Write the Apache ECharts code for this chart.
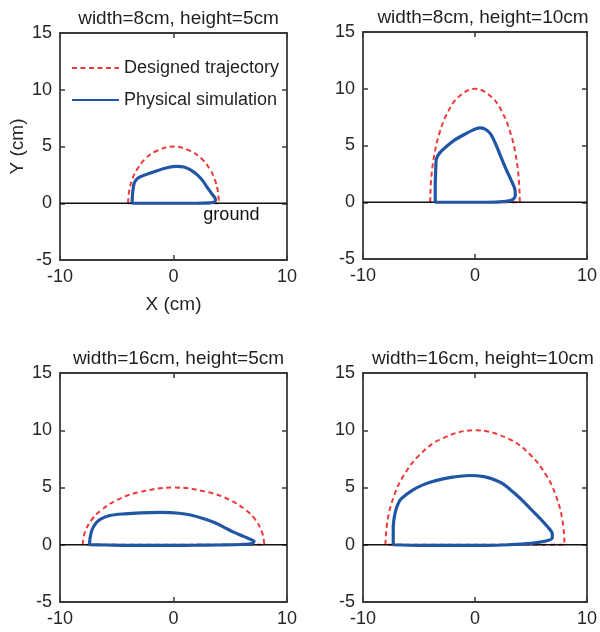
<!DOCTYPE html>
<html>
<head>
    <meta charset="utf-8">
    <title>Trajectories</title>
    <script src="https://cdn.jsdelivr.net/npm/echarts@6/dist/echarts.min.js"></script>
    <style>
        *{margin:0;padding:0;}
        html,body{width:100%;height:100%;overflow:hidden;background:#fff;}
        #main{width:600px;height:632px;}
    </style>
</head>
<body>
<div id="main"></div>
</body>
</html>
<script>
    // panel titles
    let titles = ['width=8cm, height=5cm', 'width=8cm, height=10cm', 'width=16cm, height=5cm', 'width=16cm, height=10cm'];
    let xTicks = [-10, 0, 10];
    let yTicks = [-5, 0, 5, 10, 15];
    let ground = [[-10, 0], [10, 0]];

    // red dashed: designed trajectory
    let designed1 = [[-4,0],[-3.9,1.1],[-3.6,2.2],[-3.2,3.0],[-2.5,3.9],[-1.5,4.6],[0,5.0],[1.5,4.6],[2.5,3.9],[3.2,3.0],[3.6,2.2],[3.9,1.1],[4,0],[0,0],[-4,0]];
    let designed2 = [[-4,0],[-3.9,2.2],[-3.6,4.35],[-3.2,6.0],[-2.5,7.8],[-1.5,9.25],[0,10],[1.5,9.25],[2.5,7.8],[3.2,6.0],[3.6,4.35],[3.9,2.2],[4,0],[0,0],[-4,0]];
    let designed3 = [[-8,0],[-7.8,1.1],[-7.2,2.2],[-6.4,3.0],[-5,3.9],[-3,4.6],[0,5.0],[3,4.6],[5,3.9],[6.4,3.0],[7.2,2.2],[7.8,1.1],[8,0],[0,0],[-8,0]];
    let designed4 = [[-8,0],[-7.8,2.2],[-7.2,4.35],[-6.4,6.0],[-5,7.8],[-3,9.25],[0,10],[3,9.25],[5,7.8],[6.4,6.0],[7.2,4.35],[7.8,2.2],[8,0],[0,0],[-8,0]];

    // blue solid: physical simulation
    let physical1 = [[-3.65,0],[-3.6,0.9],[-3.45,1.8],[-3.15,2.2],[-2.5,2.5],[-1.5,2.85],[-0.5,3.15],[0.3,3.25],[0.9,3.2],[1.5,2.95],[2.1,2.5],[2.6,1.95],[3.0,1.35],[3.4,0.8],[3.7,0.35],[3.6,0.1],[3.1,0.03],[2,0],[0,0],[-2,0],[-3.65,0]];
    let physical2 = [[-3.55,0],[-3.55,1.5],[-3.5,3.0],[-3.45,3.8],[-3.15,4.35],[-2.5,4.95],[-1.8,5.5],[-1.0,5.95],[-0.1,6.4],[0.4,6.55],[0.9,6.45],[1.4,6.0],[1.9,5.0],[2.35,3.9],[2.8,2.85],[3.2,2.0],[3.55,1.2],[3.6,0.6],[3.3,0.2],[2.5,0.05],[1,0],[-1,0],[-3.55,0]];
    let physical3 = [[-7.4,0],[-7.35,0.6],[-7.2,1.25],[-6.9,1.8],[-6.5,2.2],[-5.6,2.55],[-4.3,2.7],[-2.9,2.78],[-1.0,2.82],[0.5,2.75],[1.5,2.6],[2.6,2.3],[3.6,1.95],[4.5,1.5],[5.3,1.1],[6.0,0.8],[6.6,0.55],[7.1,0.3],[6.9,0.1],[6,0.02],[4,-0.02],[2,-0.04],[0,-0.05],[-2,-0.05],[-4,-0.05],[-6,-0.02],[-7.4,0]];
    let physical4 = [[-7.3,0],[-7.3,1.5],[-7.15,2.7],[-6.9,3.5],[-6.6,4.0],[-5.6,4.75],[-4.6,5.25],[-3.5,5.6],[-2.0,5.9],[-0.5,6.05],[0.8,5.95],[1.8,5.65],[2.6,5.25],[3.4,4.6],[4.2,3.9],[5.0,3.1],[5.8,2.3],[6.5,1.55],[6.9,0.95],[6.9,0.6],[6.2,0.3],[5,0.12],[3,0],[1,-0.05],[-2,-0.05],[-5,-0.05],[-7.3,0]];

    let designed = [designed1, designed2, designed3, designed4];
    let physical = [physical1, physical2, physical3, physical4];

    let FONT = 'Liberation Sans, Arial, Helvetica, sans-serif';
    let AXIS_COLOR = '#3a3a3a';
    let TEXT_COLOR = '#262626';

    let grids = [
        {left: 60, top: 33, width: 227, height: 227},
        {left: 363, top: 32, width: 230, height: 227},
        {left: 60, top: 373, width: 227, height: 229},
        {left: 363, top: 373, width: 230, height: 229}
    ];

    let myCharts = echarts.init(document.getElementById('main'));
    let xAxis = [], yAxis = [], series = [], title = [];

    grids.forEach((g, i) => {
        let base = {
            type: 'value',
            gridIndex: i,
            axisLine: {show: true, onZero: false, lineStyle: {color: AXIS_COLOR, width: 1.8}},
            axisTick: {show: true, inside: true, length: 5, lineStyle: {color: AXIS_COLOR, width: 1.5}},
            splitLine: {show: false}
        };
        // bottom + top
        xAxis.push(Object.assign({}, base, {
            position: 'bottom', min: xTicks[0], max: xTicks[xTicks.length - 1], interval: 10,
            axisLabel: {show: true, color: TEXT_COLOR, fontSize: 18, fontFamily: FONT, margin: 8},
            name: i === 0 ? 'X (cm)' : '', nameLocation: 'middle', nameGap: 35,
            nameTextStyle: {color: TEXT_COLOR, fontSize: 19, fontFamily: FONT}
        }));
        xAxis.push(Object.assign({}, base, {
            position: 'top', min: xTicks[0], max: xTicks[xTicks.length - 1], interval: 10,
            axisLabel: {show: false}
        }));
        // left + right
        yAxis.push(Object.assign({}, base, {
            position: 'left', min: yTicks[0], max: yTicks[yTicks.length - 1], interval: 5,
            axisLabel: {show: true, color: TEXT_COLOR, fontSize: 18, fontFamily: FONT, margin: 8},
            name: i === 0 ? 'Y (cm)' : '', nameLocation: 'middle', nameGap: 33,
            nameTextStyle: {color: TEXT_COLOR, fontSize: 19, fontFamily: FONT}
        }));
        yAxis.push(Object.assign({}, base, {
            position: 'right', min: yTicks[0], max: yTicks[yTicks.length - 1], interval: 5,
            axisLabel: {show: false}
        }));

        title.push({
            text: titles[i],
            left: g.left + g.width / 2,
            top: g.top - 29,
            textAlign: 'center',
            textStyle: {fontSize: 19, fontWeight: 'normal', color: '#231f20', fontFamily: FONT}
        });

        series.push({
            name: 'Designed trajectory',
            type: 'line',
            xAxisIndex: i * 2, yAxisIndex: i * 2,
            data: designed[i],
            symbol: 'none',
            smooth: 0.4,
            z: 2,
            lineStyle: {color: '#f03a3a', width: 2, type: [5, 3.5]},
            itemStyle: {color: '#f03a3a'}
        });
        series.push({
            name: 'ground',
            type: 'line',
            xAxisIndex: i * 2, yAxisIndex: i * 2,
            data: ground,
            symbol: 'none',
            z: 3,
            silent: true,
            lineStyle: {color: '#111', width: 1.5},
            markPoint: i === 0 ? {
                symbol: 'circle', symbolSize: 0,
                data: [{coord: [5.1, -1.0]}],
                label: {show: true, formatter: 'ground', color: '#111', fontSize: 18, fontFamily: FONT}
            } : undefined
        });
        series.push({
            name: 'Physical simulation',
            type: 'line',
            xAxisIndex: i * 2, yAxisIndex: i * 2,
            data: physical[i],
            symbol: 'none',
            smooth: 0.3,
            z: 4,
            lineStyle: {color: '#2156a5', width: 3.2},
            itemStyle: {color: '#2156a5'}
        });
    });

    let option = {
        backgroundColor: '#fff',
        animation: false,
        title,
        grid: grids,
        xAxis,
        yAxis,
        legend: {
            data: ['Designed trajectory', 'Physical simulation'],
            orient: 'vertical',
            left: 66, top: 54,
            itemWidth: 47, itemHeight: 14, itemGap: 14,
            itemStyle: {opacity: 0},
            textStyle: {fontSize: 18, color: '#231f20', fontFamily: FONT}
        },
        series
    };
    myCharts.setOption(option);
</script>
